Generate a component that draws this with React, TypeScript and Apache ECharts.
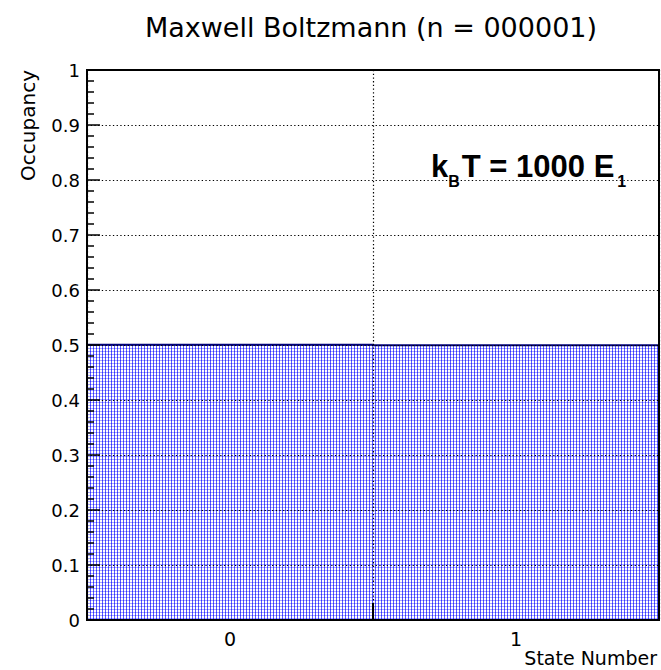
import React, { useEffect, useRef } from "react";
import * as echarts from "echarts";

// ---- data ----
const titleText = "Maxwell Boltzmann (n = 000001)";
const categories = ["0", "1"];
const occupancy = [0.5003, 0.4997];
const yMin = 0;
const yMax = 1;
const yInterval = 0.1;
const xAxisTitle = "State Number";
const yAxisTitle = "Occupancy";
const annotationParts = ["k", "B", "T = 1000 E", "1"]; // k_B T = 1000 E_1

const W = 661;
const H = 670;
const GRID = { left: 87, right: 2, top: 70, bottom: 50 };
const FONT = "DejaVu Sans";
const ANN_FONT = "Liberation Sans";

function makePattern() {
  const c = document.createElement("canvas");
  c.width = 3;
  c.height = 3;
  const ctx = c.getContext("2d")!;
  ctx.fillStyle = "#ffffff";
  ctx.fillRect(0, 0, 3, 3);
  ctx.fillStyle = "#a8a8ff";
  ctx.fillRect(0, 0, 3, 1);
  ctx.fillStyle = "#5c5cff";
  ctx.fillRect(0, 0, 1, 3);
  ctx.fillStyle = "#3434ff";
  ctx.fillRect(0, 0, 1, 1);
  return { image: c.toDataURL(), repeat: "repeat", imageWidth: 3, imageHeight: 3 };
}

function measure(text: string, font: string) {
  const ctx = document.createElement("canvas").getContext("2d")!;
  ctx.font = font;
  return ctx.measureText(text).width;
}

export default function App() {
  const ref = useRef<HTMLDivElement>(null);
  useEffect(() => {
    if (!ref.current) return;
    const chart = echarts.init(ref.current, null, { renderer: "svg", width: W, height: H });
    const pattern = makePattern();

    // annotation layout (k_B T = 1000 E_1)
    const mainSize = 31;
    const subSize = 16;
    const mainFont = `bold ${mainSize}px "${ANN_FONT}"`;
    const subFont = `bold ${subSize}px "${ANN_FONT}"`;
    const annX0 = 431;
    const mainBase = 177;
    const subBase = 187;
    const w0 = measure(annotationParts[0], mainFont);
    const w1 = measure(annotationParts[1], subFont);
    const w2 = measure(annotationParts[2], mainFont);
    const xs = [annX0, annX0 + w0, annX0 + w0 + w1 + 2, annX0 + w0 + w1 + 2 + w2 + 3];
    const annStyle = (i: number) => {
      const sub = i % 2 === 1;
      return {
        type: "text",
        x: xs[i],
        y: sub ? subBase - 0.35 * subSize : mainBase - 0.35 * mainSize,
        z: 20,
        style: {
          text: annotationParts[i],
          fontFamily: ANN_FONT,
          fontWeight: "bold",
          fontSize: sub ? subSize : mainSize,
          fill: "#000",
          align: "left",
          verticalAlign: "middle",
        },
      };
    };

    const option: any = {
      animation: false,
      backgroundColor: "#fff",
      title: {
        text: titleText,
        left: 366,
        textAlign: "center",
        top: 9,
        textStyle: { fontFamily: FONT, fontWeight: "normal", fontSize: 27, color: "#000" },
      },
      grid: {
        ...GRID,
        show: true,
        borderColor: "#000",
        borderWidth: 2,
        backgroundColor: "rgba(0,0,0,0)",
        z: 10,
      },
      xAxis: {
        type: "category",
        data: categories,
        boundaryGap: true,
        z: 8,
        axisLine: { show: true, lineStyle: { color: "#000", width: 2 } },
        axisTick: { show: true, inside: true, length: 17, alignWithLabel: false, lineStyle: { color: "#000", width: 2 } },
        axisLabel: { fontFamily: FONT, fontSize: 19, color: "#000", margin: 9 },
        splitLine: { show: true, lineStyle: { color: "#000", width: 1.2, type: [1.3, 2.4] } },
      },
      yAxis: {
        type: "value",
        min: yMin,
        max: yMax,
        interval: yInterval,
        z: 8,
        axisLine: { show: true, lineStyle: { color: "#000", width: 2 } },
        axisTick: { show: true, inside: true, length: 13, lineStyle: { color: "#000", width: 1.5 } },
        minorTick: { show: true, splitNumber: 5, length: 7, lineStyle: { color: "#000", width: 1.5 } },
        axisLabel: { fontFamily: FONT, fontSize: 18, color: "#000", margin: 7 },
        splitLine: { show: true, lineStyle: { color: "#000", width: 1.2, type: [1.3, 2.4] } },
      },
      series: [
        {
          type: "custom",
          z: 1,
          data: occupancy.map((v, i) => [i, v]),
          encode: { x: 0, y: 1 },
          renderItem: (params: any, api: any) => {
            const i = api.value(0);
            const v = api.value(1);
            const base = api.coord([i, 0]);
            const top = api.coord([i, v]);
            const w = api.size([1, 0])[0];
            const x0 = base[0] - w / 2;
            return {
              type: "group",
              children: [
                {
                  type: "rect",
                  shape: { x: x0, y: top[1], width: w, height: base[1] - top[1] },
                  style: { fill: pattern },
                },
                {
                  type: "line",
                  shape: { x1: x0, y1: top[1], x2: x0 + w, y2: top[1] },
                  style: { stroke: "#00007a", lineWidth: 2 },
                },
              ],
            };
          },
        },
      ],
      graphic: [
        {
          type: "text",
          x: 28,
          y: 70,
          rotation: Math.PI / 2,
          style: {
            text: yAxisTitle,
            fontFamily: FONT,
            fontSize: 20,
            fill: "#000",
            align: "right",
            verticalAlign: "middle",
          },
        },
        {
          type: "text",
          x: 657,
          y: 658,
          style: {
            text: xAxisTitle,
            fontFamily: FONT,
            fontSize: 19,
            fill: "#000",
            align: "right",
            verticalAlign: "middle",
          },
        },
        annStyle(0),
        annStyle(1),
        annStyle(2),
        annStyle(3),
      ],
    };
    chart.setOption(option);
    return () => chart.dispose();
  }, []);
  return (
    <div
      ref={ref}
      style={{ position: "absolute", left: 0, top: 0, width: W, height: H, background: "#fff" }}
    />
  );
}
